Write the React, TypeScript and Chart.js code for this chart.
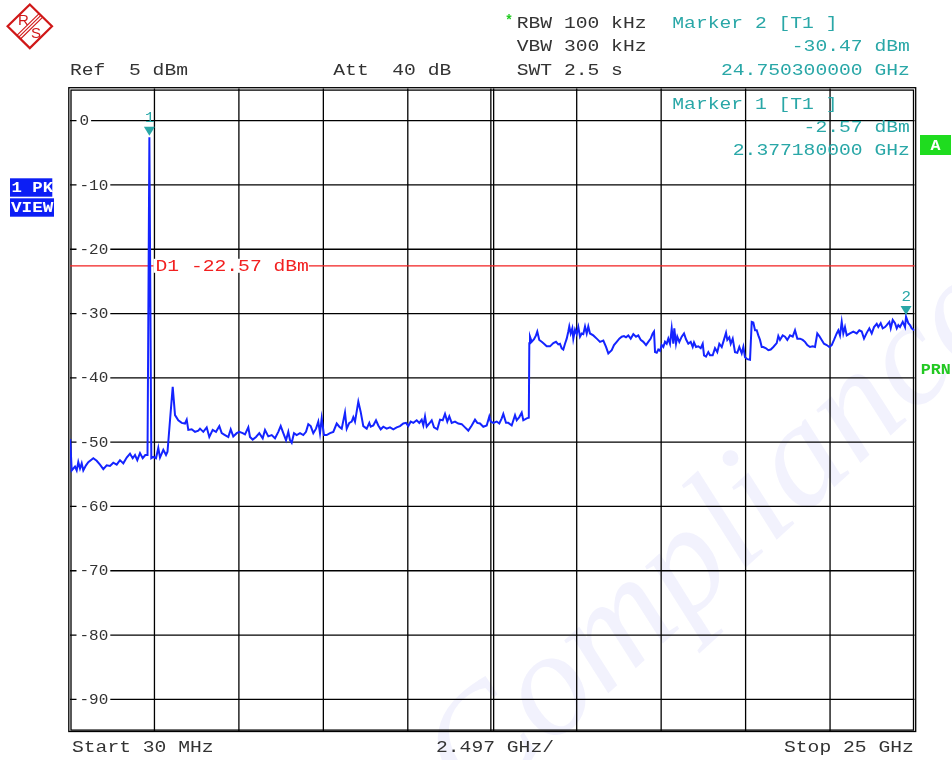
import React, { useEffect, useRef } from 'react';
import { Chart, registerables } from 'chart.js';

Chart.register(...registerables);

// ---- Sweep settings / axis ----
const startGHz = 0.03;
const stopGHz = 25;
const spanPerDivGHz = 2.497;
const refLevelDbm = 5;
const bottomLevelDbm = -95;
const levelTicks = [0, -10, -20, -30, -40, -50, -60, -70, -80, -90];
const levelTickLabels = ['0', '-10', '-20', '-30', '-40', '-50', '-60', '-70', '-80', '-90'];

// ---- Trace (frequency in GHz, level in dBm) ----
const freqGHz = [
  0.036, 0.080, 0.178, 0.228, 0.275, 0.326, 0.376, 0.423, 0.503, 0.571,
  0.719, 0.819, 0.917, 1.015, 1.115, 1.213, 1.310, 1.411, 1.508, 1.606,
  1.707, 1.804, 1.884, 1.952, 2.020, 2.100, 2.180, 2.256, 2.322, 2.377,
  2.434, 2.493, 2.573, 2.641, 2.691, 2.789, 2.869, 2.913, 2.987, 3.067,
  3.135, 3.232, 3.333, 3.430, 3.481, 3.528, 3.628, 3.726, 3.824, 3.874,
  3.971, 4.072, 4.149, 4.249, 4.347, 4.445, 4.516, 4.613, 4.711, 4.782,
  4.858, 4.959, 5.036, 5.136, 5.204, 5.302, 5.352, 5.432, 5.530, 5.627,
  5.728, 5.796, 5.893, 5.994, 6.092, 6.189, 6.260, 6.337, 6.417, 6.485,
  6.535, 6.585, 6.653, 6.733, 6.831, 6.928, 7.008, 7.076, 7.147, 7.224,
  7.304, 7.372, 7.422, 7.472, 7.540, 7.620, 7.718, 7.815, 7.916, 7.993,
  8.064, 8.161, 8.212, 8.288, 8.359, 8.407, 8.457, 8.555, 8.625, 8.702,
  8.803, 8.880, 8.921, 8.998, 9.078, 9.146, 9.217, 9.294, 9.394, 9.492,
  9.590, 9.690, 9.787, 9.885, 9.965, 10.033, 10.104, 10.181, 10.281, 10.358,
  10.429, 10.477, 10.527, 10.577, 10.654, 10.725, 10.793, 10.891, 10.970, 11.050,
  11.118, 11.186, 11.245, 11.316, 11.414, 11.511, 11.612, 11.709, 11.807, 11.908,
  12.005, 12.073, 12.153, 12.250, 12.351, 12.428, 12.469, 12.546, 12.647, 12.723,
  12.795, 12.842, 12.922, 12.990, 13.090, 13.188, 13.238, 13.315, 13.386, 13.433,
  13.534, 13.596, 13.611, 13.631, 13.681, 13.750, 13.809, 13.847, 13.906, 13.977,
  14.045, 14.125, 14.223, 14.321, 14.400, 14.468, 14.518, 14.569, 14.616, 14.666,
  14.717, 14.764, 14.793, 14.835, 14.882, 14.912, 14.962, 15.012, 15.060, 15.110,
  15.160, 15.207, 15.258, 15.308, 15.355, 15.405, 15.503, 15.604, 15.701, 15.799,
  15.879, 15.947, 16.047, 16.115, 16.195, 16.272, 16.343, 16.411, 16.470, 16.538,
  16.609, 16.686, 16.766, 16.834, 16.905, 16.982, 17.062, 17.129, 17.200, 17.259,
  17.298, 17.328, 17.378, 17.425, 17.475, 17.526, 17.573, 17.623, 17.673, 17.721,
  17.771, 17.821, 17.868, 17.898, 17.948, 17.987, 18.046, 18.117, 18.185, 18.244,
  18.312, 18.383, 18.442, 18.481, 18.540, 18.608, 18.679, 18.738, 18.777, 18.835,
  18.903, 18.954, 19.033, 19.101, 19.169, 19.229, 19.300, 19.347, 19.427, 19.465,
  19.524, 19.566, 19.625, 19.693, 19.761, 19.820, 19.891, 19.939, 19.989, 20.057,
  20.137, 20.187, 20.234, 20.285, 20.335, 20.382, 20.432, 20.483, 20.530, 20.610,
  20.678, 20.749, 20.826, 20.926, 20.973, 21.023, 21.103, 21.171, 21.239, 21.319,
  21.399, 21.467, 21.535, 21.615, 21.694, 21.762, 21.830, 21.910, 21.990, 22.058,
  22.126, 22.185, 22.256, 22.324, 22.404, 22.481, 22.552, 22.620, 22.700, 22.747,
  22.797, 22.848, 22.895, 22.945, 22.996, 23.093, 23.191, 23.291, 23.368, 23.439,
  23.507, 23.587, 23.664, 23.735, 23.803, 23.883, 23.930, 24.001, 24.060, 24.128,
  24.179, 24.256, 24.297, 24.356, 24.424, 24.475, 24.522, 24.572, 24.652, 24.720,
  24.750, 24.817, 24.867, 24.917, 24.965, 25.000,
];

const levelDbm = [
  -49.5, -54.4, -53.8, -54.4, -53.1, -54.1, -53.3, -54.4, -53.6, -53.1,
  -52.5, -52.9, -53.5, -54.2, -53.6, -53.7, -53.2, -53.5, -52.8, -53.3,
  -52.4, -51.8, -52.5, -52.0, -52.8, -51.7, -52.5, -52.0, -52.0, -2.6,
  -52.5, -52.3, -52.5, -50.9, -52.4, -51.2, -52.0, -51.5, -46.6, -41.4,
  -45.8, -46.6, -47.0, -47.1, -46.5, -48.1, -48.0, -48.4, -48.2, -47.9,
  -48.4, -47.7, -49.2, -48.1, -48.4, -47.5, -48.6, -48.9, -49.2, -48.0,
  -49.1, -48.6, -48.4, -48.6, -48.8, -47.7, -49.2, -49.6, -49.2, -48.6,
  -49.4, -48.1, -49.1, -48.9, -49.4, -48.4, -47.5, -48.6, -49.7, -48.4,
  -49.7, -50.1, -48.6, -48.9, -48.6, -48.9, -48.4, -47.2, -47.5, -48.6,
  -47.9, -46.8, -48.6, -46.3, -48.9, -48.9, -48.6, -48.4, -47.1, -47.6,
  -47.9, -45.4, -47.9, -47.0, -46.8, -46.1, -46.8, -43.7, -45.3, -47.5,
  -47.9, -47.0, -47.6, -47.4, -46.6, -47.4, -48.0, -47.6, -47.9, -47.7,
  -48.0, -47.7, -47.5, -47.1, -47.0, -47.5, -46.8, -47.0, -46.6, -47.0,
  -46.5, -47.4, -46.0, -47.6, -47.1, -46.6, -47.7, -48.0, -46.5, -46.6,
  -45.6, -46.8, -46.0, -47.0, -46.8, -47.1, -47.2, -47.7, -48.2, -47.4,
  -46.5, -47.0, -47.1, -47.6, -47.4, -46.0, -46.8, -47.0, -46.8, -47.1,
  -46.3, -45.6, -47.0, -47.0, -47.4, -45.8, -46.6, -46.1, -45.4, -46.6,
  -46.3, -46.2, -34.6, -33.6, -34.4, -34.0, -33.4, -32.8, -34.1, -34.4,
  -34.7, -35.1, -35.1, -34.6, -34.4, -34.8, -34.7, -35.4, -35.6, -34.7,
  -33.9, -32.8, -32.0, -33.1, -32.3, -33.9, -32.5, -33.2, -32.1, -33.6,
  -33.1, -33.2, -32.0, -33.1, -32.0, -33.1, -33.4, -33.9, -34.4, -34.2,
  -35.2, -36.2, -35.7, -34.9, -34.4, -33.9, -33.6, -33.5, -33.7, -33.4,
  -33.9, -33.2, -33.6, -33.4, -34.1, -34.4, -34.9, -34.4, -33.9, -33.1,
  -32.8, -36.0, -36.1, -35.6, -35.8, -34.9, -35.2, -34.4, -34.7, -33.9,
  -34.7, -32.3, -34.7, -32.3, -34.7, -33.6, -34.4, -33.6, -33.1, -34.0,
  -34.7, -34.4, -35.2, -34.5, -35.2, -35.1, -35.4, -34.7, -36.5, -36.7,
  -36.0, -36.5, -36.5, -35.4, -36.0, -34.7, -35.2, -34.4, -33.0, -34.1,
  -33.7, -34.7, -33.9, -36.0, -36.1, -35.2, -36.2, -35.2, -36.8, -37.1,
  -37.2, -31.3, -31.4, -32.6, -32.6, -33.4, -34.1, -35.2, -35.2, -35.4,
  -35.7, -35.6, -35.2, -34.6, -33.5, -34.1, -33.4, -33.6, -34.1, -33.4,
  -33.6, -32.6, -33.9, -33.9, -34.1, -34.4, -34.9, -35.2, -35.1, -35.2,
  -33.1, -33.5, -34.1, -34.7, -34.9, -35.2, -34.9, -34.1, -33.1, -32.6,
  -33.4, -31.3, -33.1, -32.1, -33.4, -33.1, -32.8, -33.1, -32.6, -32.8,
  -33.9, -33.0, -32.3, -33.1, -32.1, -31.6, -32.1, -31.5, -32.3, -32.1,
  -31.8, -31.3, -32.3, -31.0, -31.5, -32.3, -31.8, -32.1, -31.3, -32.1,
  -30.5, -31.5, -31.8, -32.3, -32.5, -32.6,
];

// ---- Markers / display line ----
const markerIds = ['1', '2'];
const markerFreqGHz = [2.37718, 24.7503];
const markerLevelDbm = [-2.57, -30.47];
const displayLineDbm = -22.57;

// ---- Annotation texts ----
const headerLeftTexts = ['Ref  5 dBm', 'Att  40 dB'];
const settingTexts = ['RBW 100 kHz', 'VBW 300 kHz', 'SWT 2.5 s'];
const marker2Texts = ['Marker 2 [T1 ]', '-30.47 dBm', '24.750300000 GHz'];
const marker1Texts = ['Marker 1 [T1 ]', '-2.57 dBm', '2.377180000 GHz'];
const footerTexts = ['Start 30 MHz', '2.497 GHz/', 'Stop 25 GHz'];
const displayLineLabel = 'D1 -22.57 dBm';
const traceTags = ['1 PK', 'VIEW'];
const watermarkText = 'Compliance';

const MONO = '"Liberation Mono", "DejaVu Sans Mono", monospace';
const PITCH = 11.8;
const TEAL = '#29a7a7';
const DARK = '#333333';

function monoText(
  ctx: CanvasRenderingContext2D,
  text: string,
  x: number,
  cy: number,
  color: string,
  size = 16.5,
  pitch = PITCH,
  bold = false
) {
  ctx.save();
  ctx.font = `${bold ? 'bold ' : ''}${size}px ${MONO}`;
  const adv = ctx.measureText('0').width || size * 0.6;
  const sx = pitch / adv;
  ctx.fillStyle = color;
  ctx.textAlign = 'left';
  ctx.textBaseline = 'alphabetic';
  ctx.translate(x, cy + size * 0.33);
  ctx.scale(sx, 1);
  ctx.fillText(text, 0, 0);
  ctx.restore();
}

function monoRight(ctx: CanvasRenderingContext2D, text: string, right: number, cy: number, color: string) {
  monoText(ctx, text, right - text.length * PITCH, cy, color);
}

const analyzerPlugin = {
  id: 'analyzerDecor',
  beforeDraw(chart: any) {
    const ctx: CanvasRenderingContext2D = chart.ctx;
    ctx.save();
    ctx.fillStyle = '#ffffff';
    ctx.fillRect(0, 0, chart.width, chart.height);

    // watermark
    ctx.save();
    ctx.translate(475, 815);
    ctx.rotate(-0.74);
    ctx.font = 'italic 150px "Liberation Serif", serif';
    ctx.fillStyle = 'rgba(190,190,245,0.2)';
    ctx.fillText(watermarkText, 0, 0);
    ctx.restore();

    // R&S logo
    ctx.save();
    ctx.strokeStyle = '#d01818';
    ctx.lineWidth = 2.2;
    ctx.beginPath();
    ctx.moveTo(29.8, 4.5);
    ctx.lineTo(52, 26.3);
    ctx.lineTo(29.8, 48.1);
    ctx.lineTo(7.6, 26.3);
    ctx.closePath();
    ctx.stroke();
    ctx.lineWidth = 1.1;
    for (const d of [-1.8, 0, 1.8]) {
      ctx.beginPath();
      ctx.moveTo(18.7 + d, 37.2 + d);
      ctx.lineTo(40.9 + d, 15.4 + d);
      ctx.stroke();
    }
    ctx.fillStyle = '#d01818';
    ctx.font = '15px "Liberation Sans", sans-serif';
    ctx.textAlign = 'center';
    ctx.textBaseline = 'middle';
    ctx.fillText('R', 23.5, 20.5);
    ctx.fillText('S', 36, 33.5);
    ctx.restore();

    // header texts
    monoText(ctx, headerLeftTexts[0], 70, 70, DARK);
    monoText(ctx, headerLeftTexts[1], 333.3, 70, DARK);
    monoText(ctx, '*', 505, 20, '#22cc22', 14, 8, true);
    const rowsY = [22.2, 45.3, 69.7];
    settingTexts.forEach((t, i) => monoText(ctx, t, 516.7, rowsY[i], DARK));
    monoText(ctx, marker2Texts[0], 672.3, rowsY[0], TEAL);
    monoRight(ctx, marker2Texts[1], 909.8, rowsY[1], TEAL);
    monoRight(ctx, marker2Texts[2], 909.8, rowsY[2], TEAL);

    // footer
    monoText(ctx, footerTexts[0], 72, 747, DARK);
    monoText(ctx, footerTexts[1], 436, 747, DARK);
    monoText(ctx, footerTexts[2], 784, 747, DARK);

    // trace tags
    ctx.fillStyle = '#0c1ef5';
    ctx.fillRect(10, 178.3, 42.3, 18.4);
    ctx.fillRect(10, 198.3, 44, 18.4);
    monoText(ctx, traceTags[0], 11.5, 187.5, '#ffffff', 14, 10.4, true);
    monoText(ctx, traceTags[1], 11, 207.5, '#ffffff', 14, 10.6, true);

    // A box and PRN
    ctx.fillStyle = '#1fdc1f';
    ctx.fillRect(920, 135, 31, 20);
    monoText(ctx, 'A', 930.5, 145, '#ffffff', 14, 10, true);
    monoText(ctx, 'PRN', 920.7, 369, '#22c822', 14, 10, true);
    ctx.restore();
  },
  beforeDatasetsDraw(chart: any) {
    const ctx: CanvasRenderingContext2D = chart.ctx;
    const ca = chart.chartArea;
    const xs = chart.scales.x;
    const ys = chart.scales.y;
    ctx.save();
    ctx.strokeStyle = '#000000';
    ctx.lineWidth = 1.3;
    // vertical grid lines
    for (let k = 1; k < 10; k++) {
      const px = xs.getPixelForValue(startGHz + k * spanPerDivGHz);
      const offs = k === 5 ? [-1.4, 1.4] : [0];
      for (const o of offs) {
        ctx.beginPath();
        ctx.moveTo(px + o, ca.top);
        ctx.lineTo(px + o, ca.bottom);
        ctx.stroke();
      }
    }
    // horizontal grid lines
    for (const v of levelTicks) {
      const py = ys.getPixelForValue(v);
      ctx.beginPath();
      ctx.moveTo(ca.left, py);
      ctx.lineTo(ca.right, py);
      ctx.stroke();
    }
    // double frame
    ctx.strokeRect(ca.left - 1.2, ca.top - 0.8, ca.right - ca.left + 2.4, ca.bottom - ca.top + 0.8);
    ctx.strokeRect(ca.left + 1.0, ca.top + 1.6, ca.right - ca.left - 2.0, ca.bottom - ca.top - 3.0);

    // level labels
    levelTicks.forEach((v, i) => {
      const py = ys.getPixelForValue(v);
      const t = levelTickLabels[i];
      ctx.fillStyle = '#ffffff';
      ctx.fillRect(76.5, py - 6, t.length * 9.6 + 5, 12);
      monoText(ctx, t, 79.5, py, DARK, 14, 9.6);
    });

    // display line D1
    const dy = ys.getPixelForValue(displayLineDbm);
    ctx.strokeStyle = '#f22020';
    ctx.lineWidth = 1.3;
    ctx.beginPath();
    ctx.moveTo(ca.left, dy);
    ctx.lineTo(ca.right, dy);
    ctx.stroke();
    ctx.restore();
  },
  afterDatasetsDraw(chart: any) {
    const ctx: CanvasRenderingContext2D = chart.ctx;
    const xs = chart.scales.x;
    const ys = chart.scales.y;
    ctx.save();
    // D1 label
    const dy = ys.getPixelForValue(displayLineDbm);
    ctx.fillStyle = '#ffffff';
    ctx.fillRect(153.5, dy - 7, displayLineLabel.length * PITCH + 2, 14);
    monoText(ctx, displayLineLabel, 155.5, dy, '#f22020');

    // markers
    markerIds.forEach((id, i) => {
      const px = xs.getPixelForValue(markerFreqGHz[i]);
      const py = ys.getPixelForValue(markerLevelDbm[i]);
      const tip = py - 1.5;
      ctx.fillStyle = TEAL;
      ctx.beginPath();
      ctx.moveTo(px, tip);
      ctx.lineTo(px - 5.5, tip - 9);
      ctx.lineTo(px + 5.5, tip - 9);
      ctx.closePath();
      ctx.fill();
      monoText(ctx, id, px - 4.5, tip - 19, TEAL, 15, 9.5);
    });

    // marker 1 readout
    monoText(ctx, marker1Texts[0], 672.3, 103.3, TEAL);
    monoRight(ctx, marker1Texts[1], 909.8, 126.7, TEAL);
    monoRight(ctx, marker1Texts[2], 909.8, 150, TEAL);
    ctx.restore();
  },
};

export default function App() {
  const canvasRef = useRef<HTMLCanvasElement | null>(null);

  useEffect(() => {
    const canvas = canvasRef.current;
    if (!canvas) return;
    const points = freqGHz.map((f, i) => ({ x: f, y: levelDbm[i] }));
    const chart = new Chart(canvas, {
      type: 'line',
      data: {
        datasets: [
          {
            data: points,
            borderColor: '#1424ff',
            borderWidth: 2,
            pointRadius: 0,
            tension: 0,
            fill: false,
          },
        ],
      },
      options: {
        animation: false,
        responsive: false,
        devicePixelRatio: 1,
        layout: { padding: { left: 70, top: 88.5, right: 37.5, bottom: 28.5 } },
        plugins: { legend: { display: false }, tooltip: { enabled: false } },
        scales: {
          x: { type: 'linear', min: startGHz, max: stopGHz, display: false },
          y: { type: 'linear', min: bottomLevelDbm, max: refLevelDbm, display: false },
        },
      },
      plugins: [analyzerPlugin],
    } as any);
    return () => chart.destroy();
  }, []);

  return (
    <div style={{ position: 'absolute', left: 0, top: 0, width: 952, height: 760, background: '#fff' }}>
      <canvas ref={canvasRef} width={952} height={760} style={{ display: 'block', width: 952, height: 760 }} />
    </div>
  );
}
